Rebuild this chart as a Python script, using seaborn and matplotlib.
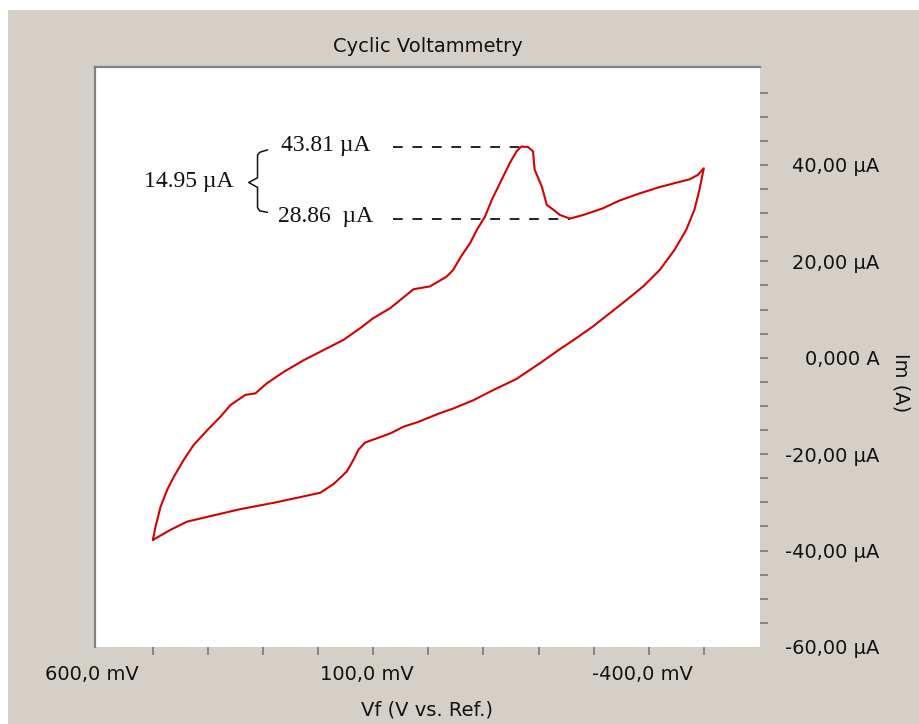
# ==========================================
# Cyclic Voltammetry - peak current readout
# ==========================================

import numpy as np
import pandas as pd
import matplotlib
matplotlib.use("Agg")
import matplotlib.pyplot as plt
from matplotlib.patches import Rectangle
from matplotlib.transforms import ScaledTranslation
import seaborn as sns

# -----------------------------------------
# Data
# -----------------------------------------

# forward sweep, +500 mV -> -500 mV
fwd_mv = [500, 495, 486, 474, 462, 444, 426, 401, 377, 359,
          332, 314, 293, 262, 226, 190, 154, 124, 100, 69,
          27, -3, -33, -45, -61, -76, -88, -103, -115, -133,
          -148, -160, -169, -181, -190, -193, -206, -215, -227, -239,
          -257, -281, -317, -347, -384, -420, -450, -474, -489, -500]
fwd_ua = [-37.8, -35.0, -30.9, -27.4, -24.7, -21.2, -18.1, -15.0, -12.2, -9.8,
          -7.7, -7.4, -5.3, -2.9, -0.5, 1.6, 3.7, 6.1, 8.2, 10.3,
          14.2, 14.8, 16.8, 18.2, 21.3, 23.8, 26.5, 29.3, 32.7, 36.9,
          40.4, 42.8, 43.81, 43.7, 42.8, 39.0, 35.5, 31.7, 30.7, 29.6,
          28.86, 29.6, 31.0, 32.6, 34.1, 35.4, 36.3, 37.0, 37.9, 39.3]

# reverse sweep, -500 mV -> +500 mV
rev_mv = [-500, -497, -492, -483, -468, -447, -420, -390, -360, -329,
          -299, -269, -251, -239, -203, -160, -118, -82, -46, -21,
          18, 45, 69, 93, 115, 127, 136, 148, 172, 196,
          232, 281, 341, 401, 438, 468, 500]
rev_ua = [39.3, 37.6, 34.8, 30.7, 26.5, 22.4, 18.2, 14.8, 12.0, 9.2,
          6.5, 4.1, 2.7, 1.8, -1.1, -4.4, -6.7, -8.8, -10.5, -11.5,
          -13.3, -14.3, -15.7, -16.7, -17.6, -19.1, -21.2, -23.6, -26.2, -28.0,
          -28.9, -30.1, -31.4, -33.0, -34.0, -35.7, -37.8]

# peak readout
peak_ua = 43.81
valley_ua = 28.86
peak_mv = -181
valley_mv = -257

# axis ticks
x_tick_values = [600, 100, -400]
x_tick_labels = ["600,0 mV", "100,0 mV", "-400,0 mV"]
y_tick_values = [40, 20, 0, -20, -40, -60]
y_tick_labels = ["40,00 µA", "20,00 µA", "0,000 A", "-20,00 µA", "-40,00 µA", "-60,00 µA"]

# -----------------------------------------
# Frame
# -----------------------------------------

sns.set_style("white")
plt.rcParams["font.family"] = ["DejaVu Sans"]

PANEL = "#d4d0c8"
RED = "#d40000"
TICK = "#707070"
INK = "#111111"

fig = plt.figure(figsize=(9.2, 7.24), dpi=100)
fig.patch.set_facecolor("white")
fig.patches.append(Rectangle((8 / 920, 0), 1, 1 - 10 / 724, transform=fig.transFigure,
                             facecolor=PANEL, edgecolor="none", zorder=-10))

ax = fig.add_axes([95 / 920, 77 / 724, 665 / 920, 580 / 724])
ax.set_facecolor("white")

# -----------------------------------------
# Curve
# -----------------------------------------

df = pd.DataFrame({
    "mV": fwd_mv + rev_mv,
    "uA": fwd_ua + rev_ua,
})

sns.lineplot(data=df, x="mV", y="uA", sort=False, estimator=None,
             color=RED, linewidth=1.5, ax=ax)

# -----------------------------------------
# Peak annotation
# -----------------------------------------

dash_start = 64
serif = ["Liberation Serif", "DejaVu Serif"]

ax.plot([dash_start, peak_mv], [peak_ua, peak_ua], color="#222222",
        lw=1.4, ls=(0, (5, 5)), zorder=1)
ax.plot([dash_start, valley_mv], [valley_ua, valley_ua], color="#222222",
        lw=1.4, ls=(0, (5, 5)), zorder=1)

ax.text(268, peak_ua - 0.9, f"{peak_ua:.2f} µA", family=serif, fontsize=17,
        ha="left", va="baseline", color=INK)
ax.text(272, valley_ua - 0.7, f"{valley_ua:.2f}  µA", family=serif, fontsize=17,
        ha="left", va="baseline", color=INK)
ax.text(354, 35.4, f"{peak_ua - valley_ua:.2f} µA", family=serif, fontsize=17,
        ha="right", va="baseline", color=INK)

# curly brace between the two readouts
mid_ua = (peak_ua + valley_ua) / 2
brace_x = [292, 306, 310, 310, 326, 310, 310, 306, 292]
brace_y = [peak_ua - 0.7, peak_ua - 1.2, peak_ua - 1.8, mid_ua + 1.0, mid_ua,
           mid_ua - 1.0, valley_ua + 2.3, valley_ua + 1.6, valley_ua + 1.3]
ax.plot(brace_x, brace_y, color=INK, lw=1.1)

# -----------------------------------------
# Axes
# -----------------------------------------

ax.set_xlim(605, -602)
ax.set_ylim(-60, 60.3)

ax.yaxis.tick_right()
ax.yaxis.set_label_position("right")
ax.xaxis.remove_overlapping_locs = False
ax.yaxis.remove_overlapping_locs = False

ax.set_xticks(x_tick_values)
ax.set_xticklabels(x_tick_labels)
ax.set_xticks(np.arange(500, -501, -100), minor=True)

ax.set_yticks(y_tick_values)
ax.set_yticklabels(y_tick_labels)
ax.set_yticks(np.arange(-55, 56, 5), minor=True)

ax.tick_params(axis="x", which="major", length=0, pad=13, labelsize=14, labelcolor=INK)
ax.tick_params(axis="y", which="major", length=0, pad=86, labelsize=14, labelcolor=INK)
ax.tick_params(which="minor", direction="out", length=5.8, width=1.1, color=TICK)
ax.tick_params(axis="x", which="minor", bottom=True)
ax.tick_params(axis="y", which="minor", right=True, left=False)

# labels sit a few pixels left of their tick, as in the instrument software
shift = ScaledTranslation(-6 / 100, 0, fig.dpi_scale_trans)
for lbl in ax.get_xticklabels():
    lbl.set_transform(lbl.get_transform() + shift)

for lbl in ax.get_yticklabels():
    lbl.set_horizontalalignment("right")

for side in ["left", "top"]:
    ax.spines[side].set_color("#808080")
    ax.spines[side].set_linewidth(1.6)
for side in ["right", "bottom"]:
    ax.spines[side].set_visible(False)

ax.set_title("Cyclic Voltammetry", fontsize=14, pad=11, color=INK)
ax.set_xlabel("Vf (V vs. Ref.)", fontsize=14, labelpad=12, color=INK)
ax.set_ylabel("Im (A)", fontsize=14, rotation=270, color=INK, va="center", ha="center")
ax.yaxis.set_label_coords(1.212, 0.455)

fig.savefig("out.png", dpi=100, facecolor=fig.get_facecolor())
